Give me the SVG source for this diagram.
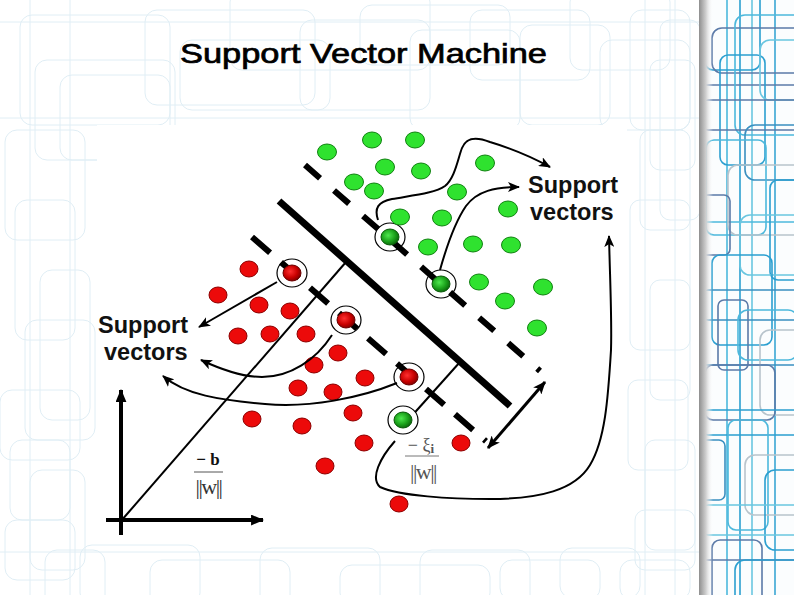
<svg xmlns="http://www.w3.org/2000/svg" width="794" height="595" viewBox="0 0 794 595">
<defs>
<style>
.bgl{fill:none;stroke:#e0eef5;stroke-width:1}
.red{fill:#ec0a0a;stroke:#8c0000;stroke-width:1}
.green{fill:#2fe22f;stroke:#128212;stroke-width:1}
.svr{fill:url(#gSvRed);stroke:#6a0000;stroke-width:1}
.svg{fill:url(#gSvGreen);stroke:#0a5a0a;stroke-width:1}
.ring{fill:#fff;stroke:#000;stroke-width:1.2}
.conn{fill:none;stroke:#000;stroke-width:2}
.label{font-family:"Liberation Sans",Arial,sans-serif;font-weight:bold;font-size:23.5px;fill:#111}
.math{font-family:"Liberation Serif","Times New Roman",serif}
</style>
<radialGradient id="gSvRed" cx="40%" cy="40%" r="65%">
<stop offset="0" stop-color="#ff3030"/><stop offset="0.6" stop-color="#c80000"/><stop offset="1" stop-color="#7a0000"/>
</radialGradient>
<radialGradient id="gSvGreen" cx="40%" cy="40%" r="65%">
<stop offset="0" stop-color="#4ee84e"/><stop offset="0.6" stop-color="#1aa01a"/><stop offset="1" stop-color="#0a600a"/>
</radialGradient>
<linearGradient id="shadow" x1="0" y1="0" x2="1" y2="0">
<stop offset="0" stop-color="#8e8e8e"/><stop offset="0.5" stop-color="#d0d0d0"/><stop offset="1" stop-color="#ffffff" stop-opacity="0"/>
</linearGradient>
<clipPath id="stripClip"><rect x="699" y="0" width="95" height="595"/></clipPath>
<clipPath id="bgClip"><rect x="0" y="0" width="699" height="595"/></clipPath>
<marker id="ah" viewBox="0 0 12 10" refX="11" refY="5" markerWidth="12" markerHeight="10" markerUnits="userSpaceOnUse" orient="auto"><path d="M0,0 L12,5 L0,10 L3,5 z" fill="#000"/></marker>
<marker id="ahDbl" viewBox="0 0 12 10" refX="11" refY="5" markerWidth="13" markerHeight="11" markerUnits="userSpaceOnUse" orient="auto-start-reverse"><path d="M0,0 L12,5 L0,10 L3,5 z" fill="#000"/></marker>
<marker id="ahBig" viewBox="0 0 12 10" refX="11" refY="5" markerWidth="13" markerHeight="11" markerUnits="userSpaceOnUse" orient="auto"><path d="M0,0 L12,5 L0,10 z" fill="#000"/></marker>
</defs>

<rect x="0" y="0" width="794" height="595" fill="#ffffff"/>

<g id="background-pattern" clip-path="url(#bgClip)">
<rect class="bgl" x="20" y="15" width="150" height="110" rx="12"/>
<rect class="bgl" x="35" y="60" width="140" height="100" rx="12"/>
<rect class="bgl" x="60" y="75" width="110" height="85" rx="12"/>
<rect class="bgl" x="145" y="10" width="170" height="95" rx="12"/>
<rect class="bgl" x="180" y="40" width="150" height="70" rx="12"/>
<rect class="bgl" x="230" y="-10" width="200" height="80" rx="12"/>
<rect class="bgl" x="300" y="20" width="130" height="90" rx="12"/>
<rect class="bgl" x="360" y="5" width="150" height="60" rx="12"/>
<rect class="bgl" x="410" y="30" width="110" height="100" rx="12"/>
<rect class="bgl" x="470" y="10" width="120" height="70" rx="12"/>
<rect class="bgl" x="520" y="25" width="90" height="100" rx="12"/>
<rect class="bgl" x="570" y="-10" width="100" height="80" rx="12"/>
<rect class="bgl" x="600" y="40" width="90" height="90" rx="12"/>
<rect class="bgl" x="630" y="10" width="60" height="120" rx="12"/>
<rect class="bgl" x="650" y="60" width="45" height="110" rx="10"/>
<rect class="bgl" x="5" y="130" width="80" height="110" rx="12"/>
<rect class="bgl" x="15" y="200" width="60" height="140" rx="12"/>
<rect class="bgl" x="40" y="270" width="50" height="150" rx="12"/>
<rect class="bgl" x="25" y="320" width="70" height="120" rx="12"/>
<rect class="bgl" x="0" y="390" width="80" height="70" rx="12"/>
<rect class="bgl" x="10" y="440" width="60" height="80" rx="12"/>
<rect class="bgl" x="30" y="470" width="55" height="100" rx="12"/>
<rect class="bgl" x="5" y="520" width="70" height="60" rx="12"/>
<rect class="bgl" x="45" y="550" width="60" height="60" rx="12"/>
<rect class="bgl" x="80" y="545" width="120" height="60" rx="12"/>
<rect class="bgl" x="150" y="560" width="140" height="50" rx="12"/>
<rect class="bgl" x="260" y="548" width="120" height="60" rx="12"/>
<rect class="bgl" x="340" y="565" width="150" height="40" rx="12"/>
<rect class="bgl" x="420" y="550" width="110" height="60" rx="12"/>
<rect class="bgl" x="500" y="560" width="100" height="40" rx="12"/>
<rect class="bgl" x="560" y="548" width="80" height="50" rx="12"/>
<rect class="bgl" x="620" y="560" width="70" height="40" rx="12"/>
<rect class="bgl" x="640" y="130" width="50" height="100" rx="10"/>
<rect class="bgl" x="630" y="200" width="60" height="150" rx="10"/>
<rect class="bgl" x="650" y="280" width="40" height="120" rx="10"/>
<rect class="bgl" x="628" y="380" width="60" height="90" rx="10"/>
<rect class="bgl" x="645" y="440" width="50" height="110" rx="10"/>
<rect class="bgl" x="635" y="510" width="60" height="60" rx="10"/>
<rect class="bgl" x="660" y="20" width="40" height="200" rx="10"/>
<line class="bgl" x1="0" y1="118" x2="699" y2="118"/>
<line class="bgl" x1="0" y1="22" x2="699" y2="22"/>
<line class="bgl" x1="0" y1="552" x2="699" y2="552"/>
<line class="bgl" x1="30" y1="0" x2="30" y2="595"/>
<line class="bgl" x1="70" y1="0" x2="70" y2="595"/>
<line class="bgl" x1="645" y1="0" x2="645" y2="595"/>
<line class="bgl" x1="675" y1="0" x2="675" y2="595"/>
</g>

<g id="right-strip">
<rect x="699" y="0" width="95" height="595" fill="#fbfdfe"/>
<g clip-path="url(#stripClip)" fill="none" stroke-width="1.6">
<line x1="727" y1="0" x2="727" y2="595" stroke="#4cb8dc"/>
<line x1="775" y1="0" x2="775" y2="595" stroke="#3aa6d4"/>
<line x1="752" y1="0" x2="752" y2="595" stroke="#6ac6e0"/>
<line x1="740" y1="0" x2="740" y2="595" stroke="#2b9fd0"/>
<line x1="699" y1="85" x2="794" y2="85" stroke="#5b7aa8"/>
<line x1="699" y1="365" x2="794" y2="365" stroke="#3a8fc0"/>
<line x1="699" y1="560" x2="794" y2="560" stroke="#5b7aa8"/>
<line x1="699" y1="222" x2="794" y2="222" stroke="#4cb8dc"/>
<rect x="705" y="-10" width="55" height="80" rx="8" stroke="#2b9fd0"/>
<rect x="712" y="28" width="110" height="45" rx="10" stroke="#5b7aa8"/>
<rect x="735" y="15" width="70" height="120" rx="10" stroke="#4cb8dc"/>
<rect x="720" y="55" width="45" height="110" rx="8" stroke="#2b9fd0"/>
<rect x="760" y="40" width="60" height="60" rx="10" stroke="#6ac6e0"/>
<rect x="700" y="100" width="120" height="30" rx="8" stroke="#5b7aa8"/>
<rect x="745" y="125" width="70" height="55" rx="10" stroke="#3a8fc0"/>
<rect x="706" y="140" width="60" height="95" rx="8" stroke="#4cb8dc"/>
<rect x="728" y="165" width="90" height="70" rx="10" stroke="#b8c4cc"/>
<rect x="770" y="180" width="40" height="100" rx="8" stroke="#2b9fd0"/>
<rect x="700" y="195" width="30" height="60" rx="6" stroke="#5b7aa8"/>
<rect x="740" y="215" width="80" height="60" rx="10" stroke="#6ac6e0"/>
<rect x="712" y="255" width="60" height="90" rx="8" stroke="#2b9fd0"/>
<rect x="700" y="290" width="120" height="30" rx="8" stroke="#3a8fc0"/>
<rect x="718" y="300" width="30" height="70" rx="6" stroke="#5b7aa8"/>
<rect x="738" y="310" width="60" height="50" rx="10" stroke="#4cb8dc"/>
<rect x="760" y="330" width="55" height="85" rx="10" stroke="#b8c4cc"/>
<rect x="705" y="365" width="70" height="55" rx="8" stroke="#5b7aa8"/>
<rect x="700" y="410" width="120" height="25" rx="8" stroke="#2b9fd0"/>
<rect x="728" y="420" width="40" height="110" rx="8" stroke="#4cb8dc"/>
<rect x="700" y="440" width="25" height="60" rx="6" stroke="#3a8fc0"/>
<rect x="745" y="455" width="70" height="60" rx="10" stroke="#b8c4cc"/>
<rect x="765" y="470" width="55" height="80" rx="10" stroke="#2b9fd0"/>
<rect x="700" y="505" width="120" height="30" rx="8" stroke="#6ac6e0"/>
<rect x="712" y="540" width="50" height="70" rx="8" stroke="#5b7aa8"/>
<rect x="735" y="560" width="80" height="50" rx="10" stroke="#2b9fd0"/>
</g>
<rect x="699" y="0" width="14" height="595" fill="url(#shadow)"/>
</g>

<text id="title" x="180" y="63" font-family="Liberation Sans, Arial, sans-serif" font-size="28" fill="#000" stroke="#000" stroke-width="0.7" textLength="367" lengthAdjust="spacingAndGlyphs">Support Vector Machine</text>

<rect id="figure-bg" x="97" y="125" width="530" height="418" fill="#ffffff"/>

<g id="hyperplane">
<line x1="279" y1="201" x2="510" y2="406" stroke="#000" stroke-width="7"/>
</g>

<g id="connectors">
<line class="conn" x1="121" y1="521" x2="346" y2="262" stroke-width="2.5"/>
<line class="conn" x1="460" y1="362" x2="409" y2="419" stroke-width="2.5"/>
<line x1="121" y1="535" x2="121" y2="390" stroke="#000" stroke-width="4" marker-end="url(#ahBig)"/>
<line x1="106" y1="520" x2="263" y2="520" stroke="#000" stroke-width="4" marker-end="url(#ahBig)"/>
<line x1="488" y1="448" x2="545" y2="382" stroke="#000" stroke-width="3" marker-start="url(#ahDbl)" marker-end="url(#ahDbl)"/>
</g>

<g id="sv-rings">
<ellipse class="ring" cx="390" cy="237" rx="15" ry="14"/>
<ellipse class="ring" cx="441" cy="284" rx="15" ry="14"/>
<ellipse class="ring" cx="403" cy="420" rx="15" ry="14"/>
<ellipse class="ring" cx="292" cy="273" rx="15" ry="14"/>
<ellipse class="ring" cx="346" cy="320" rx="15" ry="14"/>
<ellipse class="ring" cx="409" cy="377" rx="15" ry="14"/>
</g>

<g id="margins">
<line x1="305" y1="165" x2="540" y2="371" stroke="#000" stroke-width="6" stroke-dasharray="20 18.6"/>
<line x1="252" y1="237" x2="486" y2="441.3" stroke="#000" stroke-width="6" stroke-dasharray="24 14.5"/>
</g>

<g id="green-points">
<ellipse id="g1" class="green" cx="327" cy="152" rx="9.5" ry="8"/>
<ellipse id="g2" class="green" cx="372" cy="140" rx="9.5" ry="8"/>
<ellipse id="g3" class="green" cx="415" cy="140" rx="9.5" ry="8"/>
<ellipse id="g4" class="green" cx="385" cy="167" rx="9.5" ry="8"/>
<ellipse id="g5" class="green" cx="421" cy="171" rx="9.5" ry="8"/>
<ellipse id="g6" class="green" cx="485" cy="163" rx="9.5" ry="8"/>
<ellipse id="g7" class="green" cx="354" cy="182" rx="9.5" ry="8"/>
<ellipse id="g8" class="green" cx="374" cy="191" rx="9.5" ry="8"/>
<ellipse id="g9" class="green" cx="457" cy="192" rx="9.5" ry="8"/>
<ellipse id="g10" class="green" cx="508" cy="209" rx="9.5" ry="8"/>
<ellipse id="g11" class="green" cx="400" cy="217" rx="9.5" ry="8"/>
<ellipse id="g12" class="green" cx="442" cy="218" rx="9.5" ry="8"/>
<ellipse id="g13" class="green" cx="428" cy="247" rx="9.5" ry="8"/>
<ellipse id="g14" class="green" cx="473" cy="244" rx="9.5" ry="8"/>
<ellipse id="g15" class="green" cx="511" cy="245" rx="9.5" ry="8"/>
<ellipse id="g16" class="green" cx="479" cy="282" rx="9.5" ry="8"/>
<ellipse id="g17" class="green" cx="543" cy="287" rx="9.5" ry="8"/>
<ellipse id="g18" class="green" cx="505" cy="301" rx="9.5" ry="8"/>
<ellipse id="g19" class="green" cx="537" cy="328" rx="9.5" ry="8"/>
</g>

<g id="red-points">
<ellipse id="r1" class="red" cx="249" cy="269" rx="9" ry="8"/>
<ellipse id="r2" class="red" cx="218" cy="295" rx="9" ry="8"/>
<ellipse id="r3" class="red" cx="259" cy="305" rx="9" ry="8"/>
<ellipse id="r4" class="red" cx="290" cy="311" rx="9" ry="8"/>
<ellipse id="r5" class="red" cx="238" cy="336" rx="9" ry="8"/>
<ellipse id="r6" class="red" cx="270" cy="334" rx="9" ry="8"/>
<ellipse id="r7" class="red" cx="306" cy="334" rx="9" ry="8"/>
<ellipse id="r8" class="red" cx="338" cy="353" rx="9" ry="8"/>
<ellipse id="r9" class="red" cx="314" cy="365" rx="9" ry="8"/>
<ellipse id="r10" class="red" cx="365" cy="378" rx="9" ry="8"/>
<ellipse id="r11" class="red" cx="298" cy="388" rx="9" ry="8"/>
<ellipse id="r12" class="red" cx="333" cy="392" rx="9" ry="8"/>
<ellipse id="r13" class="red" cx="353" cy="413" rx="9" ry="8"/>
<ellipse id="r14" class="red" cx="252" cy="419" rx="9" ry="8"/>
<ellipse id="r15" class="red" cx="302" cy="426" rx="9" ry="8"/>
<ellipse id="r16" class="red" cx="364" cy="443" rx="9" ry="8"/>
<ellipse id="r17" class="red" cx="325" cy="466" rx="9" ry="8"/>
<ellipse id="r18" class="red" cx="399" cy="504" rx="9" ry="8"/>
<ellipse id="r19" class="red" cx="461" cy="443" rx="9" ry="8"/>
</g>

<g id="support-vectors">
<g id="sv-green-1"><ellipse class="svg" cx="390" cy="237" rx="9" ry="8"/></g>
<g id="sv-green-2"><ellipse class="svg" cx="441" cy="284" rx="9" ry="8"/></g>
<g id="sv-green-3"><ellipse class="svg" cx="403" cy="420" rx="9" ry="8"/></g>
<g id="sv-red-1"><ellipse class="svr" cx="292" cy="273" rx="9" ry="8"/></g>
<g id="sv-red-2"><ellipse class="svr" cx="346" cy="320" rx="9" ry="8"/></g>
<g id="sv-red-3"><ellipse class="svr" cx="409" cy="377" rx="9" ry="8"/></g>
</g>

<g id="arrows">
<path class="conn" d="M378,220 C374,208 378,202 392,199 C415,195 435,193 445,186 C455,178 458,158 462,148 C466,138 475,136 490,142 C510,148 530,156 550,167" marker-end="url(#ah)"/>
<path class="conn" d="M440,270 C447,245 455,222 466,206 C477,191 495,187 519,187" marker-end="url(#ah)"/>
<path class="conn" d="M395,441 C380,458 370,478 380,487 C400,496 450,499 490,499 C540,499 575,490 590,465 C605,440 608,400 611,350 C612,320 610,280 609,236" marker-end="url(#ah)"/>
<path class="conn" d="M277,282 L199,327" marker-end="url(#ah)"/>
<path class="conn" d="M332,335 C316,360 290,377 262,377 C240,377 218,368 201,360" marker-end="url(#ah)"/>
<path class="conn" d="M397,383 C360,398 310,408 265,404 C220,400 185,395 163,376" marker-end="url(#ah)"/>
</g>

<g id="label-support-vectors-right">
<text class="label" x="528" y="193">Support</text>
<text class="label" x="530" y="220">vectors</text>
</g>
<g id="label-support-vectors-left">
<text class="label" x="98" y="333">Support</text>
<text class="label" x="104" y="360">vectors</text>
</g>

<g id="formula-b">
<text class="math" x="208" y="465" font-size="17" font-weight="bold" text-anchor="middle" fill="#111">− b</text>
<line x1="194" y1="472" x2="223" y2="472" stroke="#555" stroke-width="1"/>
<text class="math" x="208.5" y="494" font-size="22" text-anchor="middle" fill="#333" letter-spacing="-1.5">||w||</text>
</g>
<g id="formula-xi">
<text class="math" x="421" y="451" font-size="18" text-anchor="middle" fill="#555">− ξ<tspan font-size="13" font-weight="bold" dy="2">i</tspan></text>
<line x1="405" y1="456" x2="439" y2="456" stroke="#777" stroke-width="1"/>
<text class="math" x="423" y="479" font-size="22" text-anchor="middle" fill="#555" letter-spacing="-1.5">||w||</text>
</g>
</svg>
